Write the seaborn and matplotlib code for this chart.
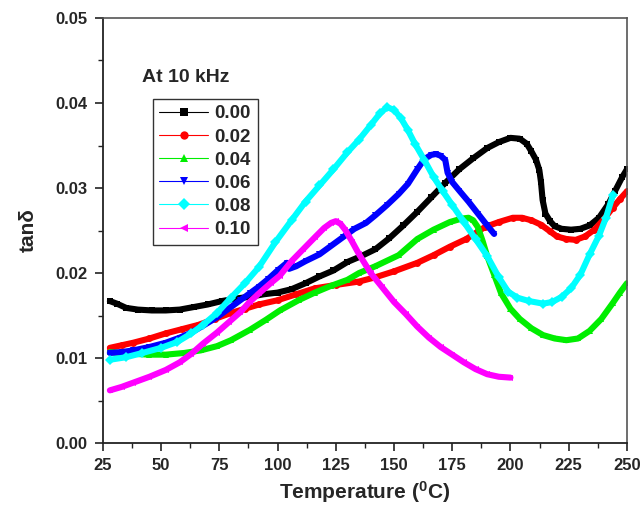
import numpy as np
import pandas as pd
import matplotlib
matplotlib.use("Agg")
import matplotlib.pyplot as plt
from matplotlib.lines import Line2D
from matplotlib.ticker import MultipleLocator
import seaborn as sns

# ---------------- data ----------------
labels = ["0.00", "0.02", "0.04", "0.06", "0.08", "0.10"]

t_000 = [28, 31, 35, 40, 46, 52, 58, 64, 70, 76, 82, 88, 94, 100, 106, 112, 118, 124, 130, 136,
         142, 148, 154, 160, 166, 172, 178, 184, 190, 195, 200, 204, 207, 209, 211, 212.4, 213.1,
         213.8, 215, 217, 219, 222, 226, 230, 234, 238, 242, 245, 248, 250]
v_000 = [0.0167, 0.0164, 0.0159, 0.0157, 0.0156, 0.0156, 0.0157, 0.0160, 0.0163, 0.0167, 0.0170,
         0.0172, 0.0175, 0.0177, 0.0181, 0.0188, 0.0196, 0.0203, 0.0213, 0.0220, 0.0228, 0.0241,
         0.0256, 0.0272, 0.0289, 0.0306, 0.0322, 0.0335, 0.0347, 0.0354, 0.0359, 0.0358, 0.0352,
         0.0343, 0.0333, 0.0321, 0.0307, 0.0286, 0.0270, 0.0261, 0.0255, 0.0252, 0.0251, 0.0252,
         0.0256, 0.0265, 0.0281, 0.0297, 0.0313, 0.0322]

t_002 = [28, 33, 38, 45, 52, 59, 66, 73, 80, 86, 92, 100, 108, 116, 125, 135, 142, 150, 160, 167,
         174, 181, 189, 195, 201, 205, 209, 213, 217, 220, 224, 228, 232, 236, 240, 244, 247, 250]
v_002 = [0.0112, 0.0115, 0.0118, 0.0123, 0.0129, 0.0134, 0.0139, 0.0146, 0.0153, 0.0158, 0.0163,
         0.0168, 0.0175, 0.0182, 0.0186, 0.0190, 0.0195, 0.0202, 0.0212, 0.0221, 0.0231, 0.0240,
         0.0254, 0.0260, 0.0265, 0.0265, 0.0262, 0.0257, 0.0249, 0.0243, 0.0240, 0.0239, 0.0243,
         0.0251, 0.0263, 0.0277, 0.0287, 0.0296]

t_004 = [28, 33, 38, 45, 52, 60, 67, 74, 80, 88, 95, 101, 109, 116, 123, 130, 135, 142, 152, 160,
         167, 174, 179, 182, 184, 186, 188, 190, 193, 196, 200, 204, 209, 214, 219, 224, 229, 234,
         239, 244, 247, 250]
v_004 = [0.0107, 0.0106, 0.0105, 0.0104, 0.0104, 0.0106, 0.0109, 0.0114, 0.0121, 0.0133, 0.0145,
         0.0156, 0.0168, 0.0177, 0.0185, 0.0192, 0.0200, 0.0208, 0.0221, 0.0240, 0.0251, 0.0260,
         0.0264, 0.0265, 0.0262, 0.0254, 0.0238, 0.0220, 0.0198, 0.0176, 0.0158, 0.0146, 0.0135,
         0.0127, 0.0123, 0.0121, 0.0123, 0.0132, 0.0146, 0.0165, 0.0177, 0.0188]

t_006 = [28, 33, 38, 45, 52, 58, 63, 68, 74, 79, 84, 88, 92, 96, 100, 104, 105, 108, 112, 118,
         123, 128, 133, 138, 142, 147, 152, 156, 160, 163, 166, 168, 170, 172, 173, 175, 178, 182,
         186, 190, 193]
v_006 = [0.0106, 0.0107, 0.0109, 0.0113, 0.0118, 0.0124, 0.0130, 0.0138, 0.0148, 0.0158, 0.0168,
         0.0176, 0.0184, 0.0193, 0.0203, 0.0212, 0.0205, 0.0208, 0.0214, 0.0222, 0.0232, 0.0242,
         0.0252, 0.0259, 0.0268, 0.0280, 0.0293, 0.0305, 0.0322, 0.0334, 0.0339, 0.0340, 0.0338,
         0.0333, 0.0318, 0.0307, 0.0297, 0.0284, 0.0270, 0.0256, 0.0246]

t_008 = [28, 35, 42, 50, 57, 63, 68, 74, 80, 86, 92, 99, 106, 112, 118, 124, 130, 135, 140, 144,
         147, 150, 153, 156, 159, 163, 167, 171, 175, 180, 185, 190, 195, 199, 203, 208, 214, 218,
         222, 226, 230, 234, 238, 241, 244]
v_008 = [0.0098, 0.0101, 0.0106, 0.0112, 0.0119, 0.0129, 0.0139, 0.0153, 0.0171, 0.0188, 0.0207,
         0.0236, 0.0262, 0.0284, 0.0303, 0.0322, 0.0342, 0.0357, 0.0374, 0.0388, 0.0395, 0.0392,
         0.0382, 0.0368, 0.0352, 0.0333, 0.0313, 0.0296, 0.0280, 0.0260, 0.0240, 0.0220, 0.0195,
         0.0178, 0.0171, 0.0167, 0.0164, 0.0166, 0.0172, 0.0182, 0.0198, 0.0222, 0.0244, 0.0265,
         0.0292]

t_010 = [28, 33, 38, 45, 52, 58, 63, 68, 74, 79, 84, 88, 92, 97, 101, 106, 111, 116, 120, 123,
         125, 127, 129, 132, 135, 140, 145, 150, 155, 160, 165, 170, 175, 180, 185, 190, 195, 200]
v_010 = [0.0062, 0.0066, 0.0071, 0.0078, 0.0086, 0.0095, 0.0105, 0.0117, 0.0130, 0.0142, 0.0154,
         0.0166, 0.0176, 0.0188, 0.0197, 0.0214, 0.0228, 0.0242, 0.0253, 0.0259, 0.0261, 0.0258,
         0.0251, 0.0237, 0.0222, 0.0200, 0.0183, 0.0166, 0.0152, 0.0137, 0.0124, 0.0113, 0.0104,
         0.0095, 0.0087, 0.0081, 0.0078, 0.0077]

x_ticks = [25, 50, 75, 100, 125, 150, 175, 200, 225, 250]
y_ticks = [0.00, 0.01, 0.02, 0.03, 0.04, 0.05]
y_tick_labels = ["0.00", "0.01", "0.02", "0.03", "0.04", "0.05"]

series_t = [t_000, t_002, t_004, t_006, t_008, t_010]
series_v = [v_000, v_002, v_004, v_006, v_008, v_010]

colors = ["#000000", "#ff0000", "#00ee00", "#0000ff", "#00ffff", "#ff00ff"]
markers = ["s", "o", "^", "v", "D", "<"]

frames = []
for lab, t, v in zip(labels, series_t, series_v):
    frames.append(pd.DataFrame({"T": t, "tan": v, "x": lab}))
df = pd.concat(frames, ignore_index=True)

# ---------------- plot ----------------
sns.set_theme(style="ticks")
plt.rcParams["font.family"] = ["Liberation Sans", "DejaVu Sans"]
plt.rcParams["mathtext.fontset"] = "custom"
plt.rcParams["mathtext.rm"] = "Liberation Sans:bold"
plt.rcParams["mathtext.bf"] = "Liberation Sans:bold"
plt.rcParams["mathtext.it"] = "Liberation Sans:bold"

fig = plt.figure(figsize=(6.43, 5.14), dpi=100)
ax = fig.add_axes([0.160, 0.138, 0.815, 0.827])

pal = dict(zip(labels, colors))
mk = dict(zip(labels, markers))
sns.lineplot(data=df, x="T", y="tan", hue="x", style="x", palette=pal, markers=mk,
             dashes=False, sort=False, estimator=None, linewidth=4.4, markersize=5,
             markeredgewidth=0, legend=False, ax=ax)

ax.set_xlim(25, 250)
ax.set_ylim(0, 0.05)
ax.set_xticks(x_ticks)
ax.set_xticklabels([str(v) for v in x_ticks])
ax.set_yticks(y_ticks)
ax.set_yticklabels(y_tick_labels)
ax.xaxis.set_minor_locator(MultipleLocator(12.5))
ax.yaxis.set_minor_locator(MultipleLocator(0.005))
ax.tick_params(axis="both", which="major", direction="out", length=6, width=1.2,
               labelsize=12, top=False, right=False, pad=5, color="#222222")
ax.tick_params(axis="both", which="minor", direction="out", length=3.5, width=1.0,
               top=False, right=False, color="#222222")
for lbl in ax.get_xticklabels() + ax.get_yticklabels():
    lbl.set_fontweight("bold")

for side in ["left", "bottom"]:
    ax.spines[side].set_linewidth(1.3)
    ax.spines[side].set_color("#222222")
for side in ["top", "right"]:
    ax.spines[side].set_linewidth(1.2)
    ax.spines[side].set_color("#555555")

ax.set_xlabel(r"Temperature ($^{0}$C)", fontsize=15, fontweight="bold", labelpad=4)
ax.set_ylabel("tanδ", fontsize=15, fontweight="bold", labelpad=13)

ax.text(0.074, 0.861, "At 10 kHz", transform=ax.transAxes, fontsize=14,
        fontweight="bold", ha="left", va="center")

handles = [Line2D([0], [0], color=c, marker=m, linewidth=0.8, markersize=6,
                  markeredgewidth=0) for c, m in zip(colors, markers)]
leg = ax.legend(handles, labels, loc="upper left", bbox_to_anchor=(0.095, 0.81),
                borderaxespad=0, frameon=True, fancybox=False, framealpha=1,
                edgecolor="#333333", prop={"weight": "bold", "size": 13.5},
                handlelength=2.6, handletextpad=0.35, labelspacing=0.32,
                borderpad=0.35, numpoints=1)
leg.get_frame().set_linewidth(1.0)

fig.savefig("out.png", dpi=100)
